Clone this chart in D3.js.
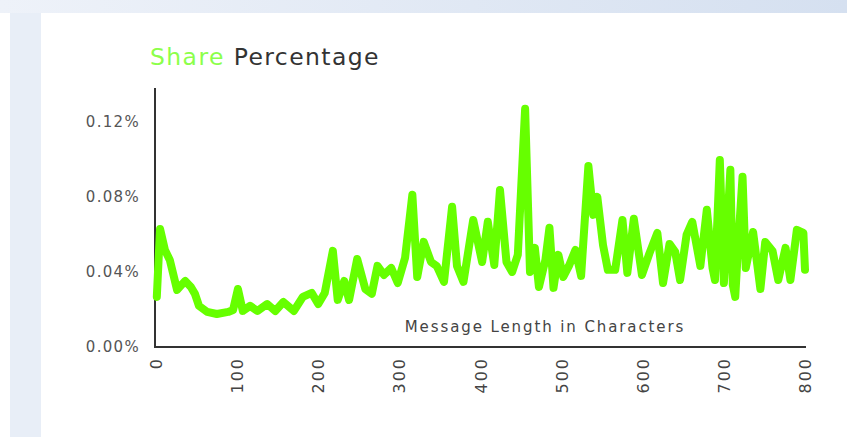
<!DOCTYPE html>
<html>
<head>
<meta charset="utf-8">
<script src="https://cdn.jsdelivr.net/npm/d3@7"></script>
<style>
  body { margin: 0; background: #fff; }
  svg { display: block; }
</style>
</head>
<body>
<div id="chart"></div>
<script>
// message length (characters) and share (%)
const lengths = [1, 5, 11, 17, 26, 36, 43, 48, 53, 63, 75, 89, 95, 101, 107, 116, 125, 137, 147, 157,
  170, 181, 192, 200, 208, 218, 224, 232, 238, 248, 258, 266, 273, 281, 290, 298, 307, 316, 322, 330,
  339, 346, 355, 365, 371, 379, 391, 402, 409, 417, 424, 432, 439, 446, 455, 461, 467, 472, 480, 485,
  490, 496, 502, 509, 517, 524, 533, 539, 544, 551, 557, 566, 575, 581, 589, 599, 608, 618, 625, 633,
  640, 646, 654, 661, 671, 679, 686, 689, 695, 700, 704, 708, 711, 714, 718, 723, 727, 736, 745, 751,
  760, 767, 776, 782, 790, 798, 800]
const shares = [0.0267, 0.0629, 0.0517, 0.0464, 0.0304, 0.0352, 0.0320, 0.0283, 0.0219, 0.0187, 0.0176, 0.0187, 0.0197, 0.0309, 0.0192, 0.0219, 0.0192, 0.0229, 0.0192, 0.0240,
  0.0192, 0.0267, 0.0288, 0.0229, 0.0288, 0.0512, 0.0251, 0.0352, 0.0251, 0.0469, 0.0309, 0.0283, 0.0432, 0.0384, 0.0421, 0.0341, 0.0475, 0.0811, 0.0373, 0.0560,
  0.0453, 0.0432, 0.0347, 0.0747, 0.0432, 0.0347, 0.0677, 0.0453, 0.0667, 0.0437, 0.0837, 0.0453, 0.0400, 0.0491, 0.1269, 0.0400, 0.0528, 0.0320, 0.0464, 0.0635,
  0.0315, 0.0491, 0.0373, 0.0432, 0.0517, 0.0379, 0.0965, 0.0704, 0.0800, 0.0544, 0.0411, 0.0411, 0.0677, 0.0395, 0.0683, 0.0384, 0.0496, 0.0608, 0.0341, 0.0549,
  0.0507, 0.0357, 0.0597, 0.0667, 0.0432, 0.0731, 0.0421, 0.0357, 0.0997, 0.0341, 0.0624, 0.0944, 0.0331, 0.0267, 0.0571, 0.0907, 0.0421, 0.0613, 0.0309, 0.0560,
  0.0512, 0.0357, 0.0528, 0.0357, 0.0624, 0.0608, 0.0411]

const yTicks = [0, 0.04, 0.08, 0.12]
const xTicks = [0, 100, 200, 300, 400, 500, 600, 700, 800]

const width = 847;
const height = 437;
const green = '#66ff00';
const font = 'DejaVu Sans, sans-serif';

const data = lengths.map((d, i) => ({len: d, share: shares[i]}))

const x = d3.scaleLinear()
    .domain([0, 800])
    .range([156, 805])

const y = d3.scaleLinear()
    .domain([0, 0.138])
    .range([347, 88])

const svg = d3.select('#chart').append('svg')
    .attr('width', width)
    .attr('height', height)

// page background around the white panel
const defs = svg.append('defs')
const grad = defs.append('linearGradient').attr('id', 'topband')
grad.append('stop').attr('offset', '0%').attr('stop-color', '#eef2f9')
grad.append('stop').attr('offset', '100%').attr('stop-color', '#d5e0f0')

svg.append('rect').attr('width', width).attr('height', height).attr('fill', '#fff')
svg.append('rect').attr('x', 10).attr('y', 0).attr('width', 31).attr('height', height).attr('fill', '#e8eef7')
svg.append('rect').attr('width', width).attr('height', 13).attr('fill', 'url(#topband)')

// title
const title = svg.append('text')
    .attr('x', 150)
    .attr('y', 65)
    .attr('font-family', font)
    .attr('font-size', 23.5)
    .attr('letter-spacing', 1.4)
title.append('tspan').attr('fill', '#8cff4a').text('Share')
title.append('tspan').attr('fill', '#333').text(' Percentage')

const xAxis = g => g
    .attr('transform', `translate(0,${y(0)})`)
    .call(d3.axisBottom(x).tickValues(xTicks).tickSize(0).tickFormat(d3.format('d')))
    .call(g => g.select('.domain').attr('stroke', '#333').attr('stroke-width', 2)
        .attr('d', `M${x(0) - 1},0H${x(800) + 1}`))
    .call(g => g.selectAll('text')
        .attr('transform', 'rotate(-90)')
        .attr('text-anchor', 'end')
        .attr('x', -10)
        .attr('y', 0)
        .attr('dy', '0.35em')
        .attr('fill', '#444')
        .attr('font-family', font)
        .attr('font-size', 16)
        .attr('letter-spacing', 2))

const yAxis = g => g
    .attr('transform', `translate(${x(0) - 1},0)`)
    .call(d3.axisLeft(y).tickValues(yTicks).tickSize(0).tickFormat(d => d.toFixed(2) + '%'))
    .call(g => g.select('.domain').attr('stroke', '#333').attr('stroke-width', 2)
        .attr('d', `M0,${y(0.138)}V${y(0) + 1}`))
    .call(g => g.selectAll('text')
        .attr('x', -15)
        .attr('fill', '#555')
        .attr('font-family', font)
        .attr('font-size', 15)
        .attr('letter-spacing', 1.3))

svg.append('g').call(xAxis)
svg.append('g').call(yAxis)

svg.append('text')
    .attr('x', 545)
    .attr('y', 332)
    .attr('text-anchor', 'middle')
    .attr('fill', '#444')
    .attr('font-family', font)
    .attr('font-size', 15)
    .attr('letter-spacing', 1.9)
    .text('Message Length in Characters')

const line = d3.line()
    .x(d => x(d.len))
    .y(d => y(d.share))

svg.append('path')
    .datum(data)
    .attr('fill', 'none')
    .attr('stroke', green)
    .attr('stroke-width', 8)
    .attr('stroke-linejoin', 'round')
    .attr('stroke-linecap', 'round')
    .attr('d', line)
</script>
</body>
</html>
